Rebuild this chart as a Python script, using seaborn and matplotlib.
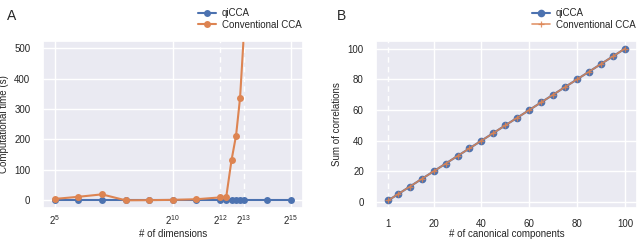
import matplotlib
matplotlib.use("Agg")
import matplotlib.pyplot as plt
import numpy as np
import pandas as pd
import seaborn as sns

# Panel A: run time vs number of dimensions
dims_qi = [32, 64, 128, 256, 512, 1024, 2048, 4096, 4915, 5734, 6554, 7373, 8192, 16384, 32768]
time_qi = [0.5, 0.5, 0.5, 0.5, 0.5, 0.5, 0.5, 0.5, 0.5, 0.5, 0.5, 0.5, 0.5, 0.5, 0.5]
dims_cca = [32, 64, 128, 256, 512, 1024, 2048, 4096, 4915, 5734, 6554, 7373, 8192]
time_cca = [5, 12, 20, 0.5, 1, 2, 4, 10, 12, 132, 213, 337, 535]

# Panel B: sum of correlations vs number of components
comps = [1, 5, 10, 15, 20, 25, 30, 35, 40, 45, 50, 55, 60, 65, 70, 75, 80, 85, 90, 95, 100]
sum_qi = [1, 5, 10, 15, 20, 25, 30, 35, 40, 45, 50, 55, 60, 65, 70, 75, 80, 85, 90, 95, 100]
sum_cca = [1, 5, 10, 15, 20, 25, 30, 35, 40, 45, 50, 55, 60, 65, 70, 75, 80, 85, 90, 95, 100]

xticks_a = [2**5, 2**10, 2**12, 2**13, 2**15]
xticklabels_a = [r"$2^{5}$", r"$2^{10}$", r"$2^{12}$", r"$2^{13}$", r"$2^{15}$"]
xticks_b = [1, 20, 40, 60, 80, 100]

sns.set_theme(style="darkgrid")
plt.rcParams["font.family"] = ["Liberation Sans", "DejaVu Sans"]
plt.rcParams["mathtext.fontset"] = "custom"
plt.rcParams["mathtext.rm"] = "Liberation Sans"
plt.rcParams["mathtext.it"] = "Liberation Sans"
FS = 7

blue, orange = sns.color_palette("deep")[:2]

fig = plt.figure(figsize=(6.4, 2.4), dpi=100)
ax_a = fig.add_axes([0.067, 0.133, 0.406, 0.696])
ax_b = fig.add_axes([0.588, 0.133, 0.407, 0.696])

# --- A ---
df_qi = pd.DataFrame({"dims": dims_qi, "time": time_qi})
df_cca = pd.DataFrame({"dims": dims_cca, "time": time_cca})
sns.lineplot(data=df_qi, x="dims", y="time", ax=ax_a, color=blue, marker="o",
             markersize=5, markeredgewidth=0, linewidth=1.5, label="qiCCA")
sns.lineplot(data=df_cca, x="dims", y="time", ax=ax_a, color=orange, marker="o",
             markersize=5, markeredgewidth=0, linewidth=1.5, label="Conventional CCA")
ax_a.set_xscale("log", base=2)
ax_a.set_xticks(xticks_a)
ax_a.set_xticklabels(xticklabels_a)
ax_a.minorticks_off()
ax_a.set_ylim(-25, 523)
ax_a.set_yticks([0, 100, 200, 300, 400, 500])
ax_a.set_xlabel("# of dimensions", fontsize=FS)
ax_a.set_ylabel("Computational time (s)", fontsize=FS, labelpad=4)
gl = ax_a.get_xgridlines()
gl[2].set_linestyle((0, (4, 3)))
gl[3].set_linestyle((0, (4, 3)))

# --- B ---
df_bq = pd.DataFrame({"k": comps, "s": sum_qi})
df_bc = pd.DataFrame({"k": comps, "s": sum_cca})
sns.lineplot(data=df_bq, x="k", y="s", ax=ax_b, color=blue, marker="o",
             markersize=5.5, markeredgewidth=0, linewidth=1.5, label="qiCCA")
sns.lineplot(data=df_bc, x="k", y="s", ax=ax_b, color=orange, marker="+",
             markersize=4, markeredgewidth=0.9, markeredgecolor=orange,
             linewidth=1.2, alpha=0.85, label="Conventional CCA")
ax_b.set_xticks(xticks_b)
ax_b.set_yticks([0, 20, 40, 60, 80, 100])
ax_b.set_xlabel("# of canonical components", fontsize=FS)
ax_b.set_ylabel("Sum of correlations", fontsize=FS, labelpad=4)
ax_b.get_xgridlines()[0].set_linestyle((0, (4, 3)))

for ax in (ax_a, ax_b):
    ax.tick_params(axis="y", labelsize=FS, pad=3)
    ax.tick_params(axis="x", labelsize=FS, pad=2)
    ax.xaxis.set_label_coords(0.5, -0.125)
    ax.legend(loc="lower right", bbox_to_anchor=(1.01, 1.045), frameon=False,
              fontsize=FS, handlelength=1.8, borderaxespad=0.0,
              labelspacing=0.15, handletextpad=0.6)
ax_a.tick_params(axis="x", pad=-2)

fig.text(0.011, 0.935, "A", fontsize=10, va="center")
fig.text(0.527, 0.935, "B", fontsize=10, va="center")

fig.savefig("out.png", dpi=100)
